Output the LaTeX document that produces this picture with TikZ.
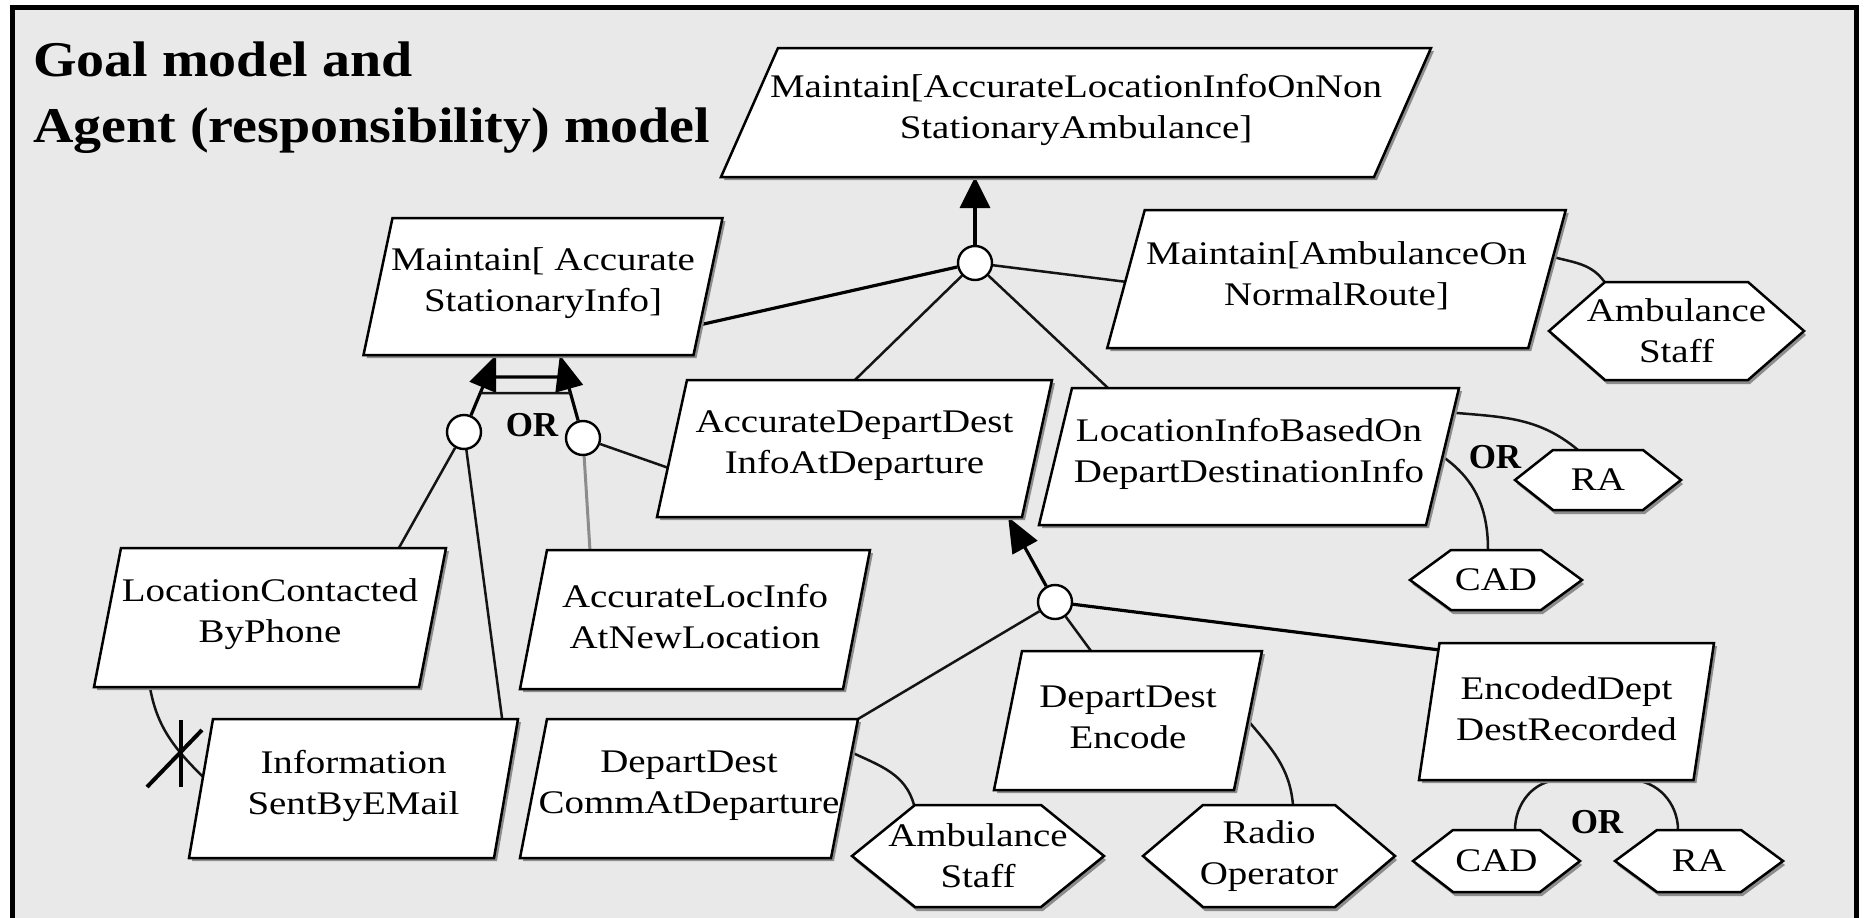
\documentclass[tikz,border=0pt]{standalone}
\usepackage{fontspec}
\usetikzlibrary{arrows.meta,calc}
\newfontfamily\lblfont[FakeStretch=1.18]{Liberation Serif}
\newfontfamily\ttlfont[FakeStretch=1.12]{Liberation Serif}
\newfontfamily\orfont{Liberation Serif}
\definecolor{bgc}{RGB}{233,233,233}
\definecolor{shadowc}{RGB}{140,140,140}
\definecolor{lnc}{RGB}{20,20,20}
\pgfdeclarelayer{back}
\pgfdeclarelayer{edges}
\pgfsetlayers{back,edges,main}

\tikzset{
  anchorbox/.style={rectangle, draw=none, inner sep=0pt, outer sep=0pt},
  shapeline/.style={draw=black, line width=2.5pt, fill=white, line join=miter},
  shadowfill/.style={fill=shadowc},
  lbl/.style={font=\lblfont\fontsize{33pt}{41pt}\selectfont, align=center, inner sep=0pt},
  ttl/.style={font=\ttlfont\bfseries\fontsize{50pt}{66pt}\selectfont, inner sep=0pt, anchor=base west},
  orlbl/.style={font=\orfont\bfseries\fontsize{35pt}{40pt}\selectfont, inner sep=0pt},
  refnode/.style={circle, draw=black, fill=white, line width=2.4pt, minimum size=34pt, inner sep=0pt},
  link/.style={draw=lnc, line width=2.5pt},
  heavylink/.style={draw=black, line width=3.2pt},
  greylink/.style={draw=black!45, line width=3pt},
  uparrow/.style={draw=black, line width=3.5pt, -{Triangle[length=31pt,width=30pt]}},
  orarrow/.style={draw=black, line width=3.2pt, -{Triangle[length=35pt,width=28pt]}},
  markline/.style={draw=black, line width=4pt},
}

% goal: name, centre x, centre y (downwards), side length, height, slant, text
\newcommand\goalnode[7]{%
  \node[anchorbox, minimum width=#4pt, minimum height=#5pt] (#1) at (#2,-#3) {};
  \coordinate (#1-tl) at ([xshift=#6pt/2]#1.north west);
  \coordinate (#1-tr) at ([xshift=#6pt/2]#1.north east);
  \coordinate (#1-br) at ([xshift=-#6pt/2]#1.south east);
  \coordinate (#1-bl) at ([xshift=-#6pt/2]#1.south west);
  \fill[shadowfill] ([shift={(3pt,-3pt)}]#1-tl) -- ([shift={(3pt,-3pt)}]#1-tr)
     -- ([shift={(3pt,-3pt)}]#1-br) -- ([shift={(3pt,-3pt)}]#1-bl) -- cycle;
  \draw[shapeline] (#1-tl) -- (#1-tr) -- (#1-br) -- (#1-bl) -- cycle;
  \node[lbl] (#1-txt) at ([yshift=3pt]#1.center) {#7};
}

% agent: name, centre x, centre y (downwards), width, height, corner inset, text
\newcommand\agentnode[7]{%
  \node[anchorbox, minimum width=#4pt, minimum height=#5pt] (#1) at (#2,-#3) {};
  \coordinate (#1-tl) at ([xshift=#6pt]#1.north west);
  \coordinate (#1-tr) at ([xshift=-#6pt]#1.north east);
  \coordinate (#1-br) at ([xshift=-#6pt]#1.south east);
  \coordinate (#1-bl) at ([xshift=#6pt]#1.south west);
  \fill[shadowfill] ([shift={(2pt,-4pt)}]#1.west) -- ([shift={(2pt,-4pt)}]#1-tl)
     -- ([shift={(2pt,-4pt)}]#1-tr) -- ([shift={(2pt,-4pt)}]#1.east)
     -- ([shift={(2pt,-4pt)}]#1-br) -- ([shift={(2pt,-4pt)}]#1-bl) -- cycle;
  \draw[shapeline] (#1.west) -- (#1-tl) -- (#1-tr) -- (#1.east) -- (#1-br) -- (#1-bl) -- cycle;
  \node[lbl] (#1-txt) at (#1.center) {#7};
}

\begin{document}
\begin{tikzpicture}[x=1pt,y=1pt]
\useasboundingbox (0,0) rectangle (1872,-918);

% canvas and frame
\begin{pgfonlayer}{back}
  \fill[white] (0,0) rectangle (1872,-918);
  \fill[bgc] (12,-7) rectangle (1856,-930);
  \draw[line width=5pt] (12,-930) -- (12,-7) -- (1856,-7) -- (1856,-930);
\end{pgfonlayer}

% heading
\node[ttl] (title1) at (33,-76) {Goal model and};
\node[ttl] (title2) at (33,-142) {Agent (responsibility) model};

% goals
\goalnode{g0}{1076}{112.5}{653}{129}{57}{Maintain[AccurateLocationInfoOnNon\\StationaryAmbulance]}
\goalnode{g1}{543}{286.5}{330}{137}{29}{Maintain[ Accurate\\StationaryInfo]}
\goalnode{g2}{1336.5}{279}{421}{138}{37.5}{Maintain[AmbulanceOn\\NormalRoute]}
\goalnode{g3}{854.5}{448.5}{365}{137}{30}{AccurateDepartDest\\InfoAtDeparture}
\goalnode{g4}{1249}{456.5}{387}{137}{33}{LocationInfoBasedOn\\DepartDestinationInfo}
\goalnode{g5}{270}{617.5}{325}{139}{27}{LocationContacted\\ByPhone}
\goalnode{g6}{695}{619.5}{323}{139}{27}{AccurateLocInfo\\AtNewLocation}
\goalnode{g7}{353.5}{788.5}{305}{139}{24}{Information\\SentByEMail}
\goalnode{g8}{689}{788.5}{311}{139}{27}{DepartDest\\CommAtDeparture}
\goalnode{g9}{1128}{720.5}{240}{139}{28}{DepartDest\\Encode}
\goalnode{g10}{1566.5}{711.5}{274.5}{137}{20.5}{EncodedDept\\DestRecorded}

% agents
\agentnode{a1}{1676.5}{331}{255}{98}{56}{Ambulance\\Staff}
\agentnode{a2}{1598}{480}{166}{60}{38}{RA}
\agentnode{a3}{1496}{580}{172}{60}{41}{CAD}
\agentnode{a4}{978}{856}{252}{102}{63}{Ambulance\\Staff}
\agentnode{a5}{1269}{856}{252}{102}{60}{Radio\\Operator}
\agentnode{a6}{1496.5}{861}{167}{62}{40}{CAD}
\agentnode{a7}{1699}{861}{168}{62}{42}{RA}

% refinement nodes
\node[refnode] (c0) at (975,-263) {};
\node[refnode] (c1) at (464,-432) {};
\node[refnode] (c2) at (583,-438) {};
\node[refnode] (c3) at (1055,-602) {};

% OR labels
\node[orlbl] (or1) at (532,-425) {OR};
\node[orlbl] (or2) at (1495,-457) {OR};
\node[orlbl] (or3) at (1597,-822) {OR};

\coordinate (t1) at ($(g1-bl)!0.402!(g1-br)$);
\coordinate (t2) at ($(g1-bl)!0.595!(g1-br)$);
\coordinate (cfl) at (181,-753);

\begin{pgfonlayer}{edges}
  % refinement of the top goal
  \draw[uparrow] (c0) -- (c0 |- g0.south);
  \draw[heavylink] (c0) -- ($(g1-tr)!0.78!(g1-br)$);
  \draw[link] (c0) -- ($(g2-tl)!0.52!(g2-bl)$);
  \draw[link] (c0) -- ($(g3-tl)!0.46!(g3-tr)$);
  \draw[link] (c0) -- ($(g4-tl)!0.093!(g4-tr)$);

  % OR-refinement of the stationary goal
  \draw[orarrow] (c1) -- (t1);
  \draw[orarrow] (c2) -- (t2);
  \draw[heavylink] ($(c1)!0.714!(t1)$) -- ($(c2)!0.735!(t2)$);
  \draw[link] ($(c1)!0.506!(t1)$) -- ($(c2)!0.542!(t2)$);
  \draw[link] (c1) -- ($(g5-tl)!0.855!(g5-tr)$);
  \draw[link] (c1) -- ($(g7-tl)!0.948!(g7-tr)$);
  \draw[greylink] (c2) -- ($(g6-tl)!0.133!(g6-tr)$);
  \draw[link] (c2) -- ($(g3-tl)!0.64!(g3-bl)$);

  % refinement of the departure goal
  \draw[orarrow] (c3) -- ($(g3-bl)!0.962!(g3-br)$);
  \draw[link] (c3) -- (g8-tr);
  \draw[link] (c3) -- ($(g9-tl)!0.2875!(g9-tr)$);
  \draw[heavylink] (c3) -- ($(g10-tl)!0.05!(g10-bl)$);

  % responsibility links
  \draw[link] ($(g2-tr)!0.34!(g2-br)$) to[out=-15,in=125] ([xshift=-72pt]a1.north);
  \draw[link] ($(g4-tr)!0.18!(g4-br)$) to[out=-5,in=140] ([xshift=-20pt]a2.north);
  \draw[link] ($(g4-tr)!0.50!(g4-br)$) to[out=-35,in=90] ([xshift=-8pt]a3.north);
  \draw[link] ($(g8-tr)!0.24!(g8-br)$) to[out=-25,in=105] ([xshift=-64pt]a4.north);
  \draw[link] ($(g9-tr)!0.5!(g9-br)$) to[out=-50,in=95] ([xshift=24pt]a5.north);
  \draw[link] ([xshift=18.5pt]a6.north) to[out=90,in=180] ($(g10-bl)!0.514!(g10-br)$)
      -- ($(g10-bl)!0.769!(g10-br)$) to[out=0,in=90] ([xshift=-21pt]a7.north);

  % conflict between the two alternatives
  \draw[link] ($(g5-bl)!0.172!(g5-br)$) to[out=-80,in=135] ($(g7-tl)!0.417!(g7-bl)$);
\end{pgfonlayer}

% conflict mark
\draw[markline] ([yshift=33pt]cfl) -- ([yshift=-34pt]cfl);
\draw[markline] ([shift={(-34pt,-34pt)}]cfl) -- ([shift={(21pt,23pt)}]cfl);

\end{tikzpicture}
\end{document}
